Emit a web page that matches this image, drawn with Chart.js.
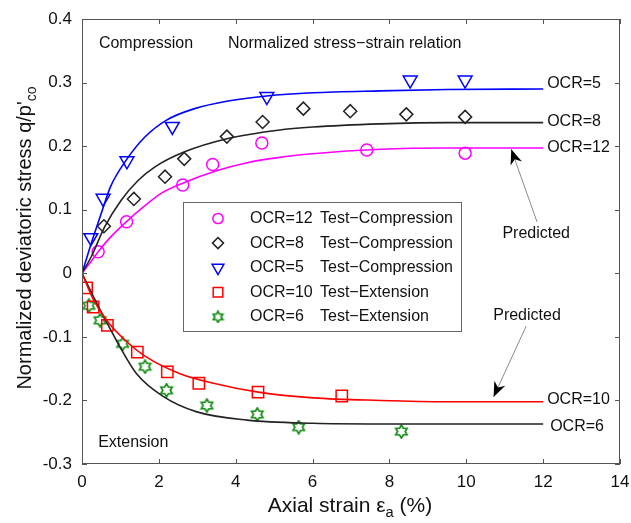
<!DOCTYPE html>
<html>
<head>
<meta charset="utf-8">
<script src="https://cdn.jsdelivr.net/npm/chart.js@4.4.0/dist/chart.umd.min.js"></script>
<style>
  html, body { margin: 0; padding: 0; background: #fff; }
</style>
</head>
<body>
<canvas id="chart" width="631" height="523"></canvas>
<script>
// test points
const ocr12TestX = [0.42, 1.16, 2.62, 3.40, 4.68, 7.41, 9.97];
const ocr12TestY = [0.034, 0.081, 0.139, 0.171, 0.205, 0.194, 0.189];
const ocr8TestX = [0.57, 1.35, 2.16, 2.66, 3.77, 4.70, 5.76, 6.98, 8.44, 9.97];
const ocr8TestY = [0.074, 0.117, 0.152, 0.180, 0.215, 0.238, 0.259, 0.255, 0.250, 0.246];
const ocr5TestX = [0.23, 0.55, 1.17, 2.35, 4.81, 8.54, 9.97];
const ocr5TestY = [0.056, 0.118, 0.177, 0.231, 0.278, 0.304, 0.304];
const ocr10TestX = [0.12, 0.29, 0.66, 1.44, 2.22, 3.04, 4.58, 6.76];
const ocr10TestY = [-0.023, -0.053, -0.082, -0.124, -0.155, -0.173, -0.187, -0.193];
const ocr6TestX = [0.18, 0.47, 1.06, 1.64, 2.20, 3.25, 4.56, 5.64, 8.31];
const ocr6TestY = [-0.051, -0.074, -0.111, -0.147, -0.184, -0.208, -0.222, -0.242, -0.249];

// predicted curves
const ocr5PredX = [0, 0.24, 0.50, 0.74, 1.15, 1.63, 2.20, 2.93, 3.80, 4.80, 6.00, 7.76, 9.50, 12];
const ocr5PredY = [0, 0.047, 0.094, 0.136, 0.178, 0.214, 0.241, 0.259, 0.271, 0.279, 0.284, 0.287, 0.289, 0.290];
const ocr8PredX = [0, 0.24, 0.59, 1.02, 1.46, 1.89, 2.67, 3.80, 5.10, 6.00, 7.76, 9.50, 12];
const ocr8PredY = [0, 0.026, 0.073, 0.115, 0.146, 0.167, 0.191, 0.212, 0.225, 0.230, 0.235, 0.237, 0.237];
const ocr12PredX = [0, 0.24, 0.42, 0.76, 1.15, 1.63, 2.07, 2.59, 3.54, 4.30, 5.10, 6.00, 7.76, 9.50, 12];
const ocr12PredY = [0, 0.019, 0.034, 0.058, 0.081, 0.106, 0.126, 0.141, 0.162, 0.174, 0.182, 0.188, 0.195, 0.197, 0.197];
const ocr10PredX = [0, 0.30, 0.64, 1.08, 1.68, 2.55, 3.42, 4.59, 6.02, 7.76, 9.50, 12];
const ocr10PredY = [0, -0.042, -0.074, -0.103, -0.132, -0.158, -0.173, -0.187, -0.196, -0.200, -0.202, -0.202];
const ocr6PredX = [0, 0.30, 0.64, 0.99, 1.42, 2.12, 2.99, 4.29, 6.02, 7.76, 12];
const ocr6PredY = [0, -0.037, -0.077, -0.116, -0.158, -0.194, -0.218, -0.231, -0.236, -0.237, -0.237];

const xTicks = [0, 2, 4, 6, 8, 10, 12, 14];
const yTicks = [-0.3, -0.2, -0.1, 0, 0.1, 0.2, 0.3, 0.4];

const legendNames = ['OCR=12', 'OCR=8', 'OCR=5', 'OCR=10', 'OCR=6'];
const legendKinds = ['Test\u2212Compression', 'Test\u2212Compression', 'Test\u2212Compression', 'Test\u2212Extension', 'Test\u2212Extension'];
const curveNames = ['OCR=5', 'OCR=8', 'OCR=12', 'OCR=10', 'OCR=6'];

const FONT = '"Liberation Sans", Arial, sans-serif';
const pink = '#ff00ff', blue = '#0000ff', black = '#222222', red = '#ff0000', green = '#148c14';

function xy(xs, ys) {
    return xs.map((x, i) => ({ x: x, y: ys[i] }));
}

// star-of-david marker (matlab hexagram)
function makeHexagram(color, size) {
    const c = document.createElement('canvas');
    c.width = size; c.height = size;
    const g = c.getContext('2d');
    const r = size / 2 - 1, cx = size / 2, cy = size / 2;
    g.strokeStyle = color;
    g.lineWidth = 1.7;
    g.beginPath();
    for (let i = 0; i < 12; i++) {
        const a = -Math.PI / 2 + i * Math.PI / 6;
        const rr = i % 2 === 0 ? r : r / Math.sqrt(3);
        const px = cx + rr * Math.cos(a), py = cy + rr * Math.sin(a);
        if (i === 0) g.moveTo(px, py); else g.lineTo(px, py);
    }
    g.closePath();
    g.stroke();
    return c;
}
const hexStar = makeHexagram(green, 15);
const hexStarSmall = makeHexagram(green, 13);

const markerStyles = [
    { pointStyle: 'circle', radius: 6, rotation: 0, borderColor: pink },
    { pointStyle: 'rectRot', radius: 6.5, rotation: 0, borderColor: black },
    { pointStyle: 'triangle', radius: 8, rotation: 180, borderColor: blue },
    { pointStyle: 'rect', radius: 8, rotation: 0, borderColor: red },
    { pointStyle: hexStar, radius: 7, rotation: 0, borderColor: green }
];

function lineSet(xs, ys, color) {
    return {
        type: 'line', data: xy(xs, ys), borderColor: color, borderWidth: 1.6,
        pointRadius: 0, fill: false, cubicInterpolationMode: 'monotone'
    };
}
function markerSet(xs, ys, m) {
    return {
        type: 'scatter', data: xy(xs, ys), showLine: false,
        pointStyle: m.pointStyle, pointRadius: m.radius, pointHoverRadius: m.radius,
        rotation: m.rotation, borderColor: m.borderColor, backgroundColor: 'rgba(0,0,0,0)',
        pointBorderWidth: 1.5
    };
}

// draw text with a subscript piece
function drawParts(ctx, parts, x, y, size) {
    let w = 0;
    parts.forEach(p => {
        ctx.font = (p.sub ? size * 0.7 : size) + 'px ' + FONT;
        w += ctx.measureText(p.t).width;
    });
    let cx = x - w / 2;
    ctx.textAlign = 'left';
    ctx.textBaseline = 'middle';
    parts.forEach(p => {
        ctx.font = (p.sub ? size * 0.7 : size) + 'px ' + FONT;
        ctx.fillText(p.t, cx, p.sub ? y + size * 0.35 : y);
        cx += ctx.measureText(p.t).width;
    });
}

function arrow(ctx, x1, y1, x2, y2) {
    ctx.save();
    ctx.strokeStyle = '#8a8a8a';
    ctx.lineWidth = 1;
    ctx.beginPath();
    ctx.moveTo(x1, y1);
    ctx.lineTo(x2, y2);
    ctx.stroke();
    const a = Math.atan2(y2 - y1, x2 - x1);
    const L = 15, W = 6;
    ctx.translate(x2, y2);
    ctx.rotate(a);
    ctx.fillStyle = '#000';
    ctx.beginPath();
    ctx.moveTo(0, 0);
    ctx.lineTo(-L, -W);
    ctx.lineTo(-L * 0.7, 0);
    ctx.lineTo(-L, W);
    ctx.closePath();
    ctx.fill();
    ctx.restore();
}

const decorations = {
    id: 'decorations',
    afterDraw(chart) {
        const ctx = chart.ctx;
        const a = chart.chartArea;
        const xs = chart.scales.x, ys = chart.scales.y;
        const X = v => xs.getPixelForValue(v), Y = v => ys.getPixelForValue(v);
        ctx.save();

        // box + inward ticks
        ctx.strokeStyle = '#555';
        ctx.lineWidth = 1;
        ctx.strokeRect(a.left + 0.5, a.top + 0.5, a.right - a.left - 1, a.bottom - a.top - 1);
        ctx.beginPath();
        xTicks.forEach(t => {
            const p = Math.round(X(t)) + 0.5;
            ctx.moveTo(p, a.bottom); ctx.lineTo(p, a.bottom - 5);
            ctx.moveTo(p, a.top); ctx.lineTo(p, a.top + 5);
        });
        yTicks.forEach(t => {
            const p = Math.round(Y(t)) + 0.5;
            ctx.moveTo(a.left, p); ctx.lineTo(a.left + 5, p);
            ctx.moveTo(a.right, p); ctx.lineTo(a.right - 5, p);
        });
        ctx.stroke();

        ctx.fillStyle = '#111';
        // axis titles
        drawParts(ctx, [{ t: 'Axial strain \u03b5' }, { t: 'a', sub: true }, { t: ' (%)' }], 350, 506, 21);
        ctx.save();
        ctx.translate(25, 238);
        ctx.rotate(-Math.PI / 2);
        drawParts(ctx, [{ t: "Normalized deviatoric stress q/p'" }, { t: 'co', sub: true }], 0, 0, 20);
        ctx.restore();

        // in-plot labels
        ctx.font = '16px ' + FONT;
        ctx.textAlign = 'left';
        ctx.textBaseline = 'middle';
        ctx.fillText('Compression', X(0.44), Y(0.362));
        ctx.fillText('Normalized stress\u2212strain relation', X(3.80), Y(0.362));
        ctx.fillText('Extension', X(0.42), Y(-0.267));

        const ends = [0.299, 0.238, 0.198, -0.199, -0.241];
        curveNames.forEach((n, i) => ctx.fillText(n, X(12) + (i === 4 ? 7 : 4), Y(ends[i])));

        ctx.textAlign = 'center';
        ctx.fillText('Predicted', X(11.82), Y(0.063));
        ctx.fillText('Predicted', X(11.58), Y(-0.067));
        arrow(ctx, X(11.84), Y(0.081), X(11.17), Y(0.195));
        arrow(ctx, X(11.56), Y(-0.083), X(10.71), Y(-0.1945));

        // legend box
        const lx = 183.5, ly = 202.5, lw = 278, lh = 129;
        ctx.fillStyle = '#fff';
        ctx.fillRect(lx, ly, lw, lh);
        ctx.strokeStyle = '#666';
        ctx.strokeRect(lx, ly, lw, lh);
        ctx.textAlign = 'left';
        legendNames.forEach((n, i) => {
            const ry = 218.5 + i * 24.6;
            const m = markerStyles[i];
            ctx.strokeStyle = m.borderColor;
            ctx.fillStyle = 'rgba(0,0,0,0)';
            ctx.lineWidth = 1.5;
            Chart.helpers.drawPoint(ctx, {
                pointStyle: i === 4 ? hexStarSmall : m.pointStyle, radius: m.radius * 0.85,
                rotation: m.rotation, borderWidth: 1.5
            }, 218, ry);
            ctx.fillStyle = '#111';
            ctx.fillText(n, 250, ry);
            ctx.fillText(legendKinds[i], 320, ry);
        });
        ctx.restore();
    }
};

const ctx = document.getElementById('chart').getContext('2d');
const chart = new Chart(ctx, {
    data: {
        datasets: [
            lineSet(ocr5PredX, ocr5PredY, blue),
            lineSet(ocr8PredX, ocr8PredY, black),
            lineSet(ocr12PredX, ocr12PredY, pink),
            lineSet(ocr10PredX, ocr10PredY, red),
            lineSet(ocr6PredX, ocr6PredY, black),
            markerSet(ocr12TestX, ocr12TestY, markerStyles[0]),
            markerSet(ocr8TestX, ocr8TestY, markerStyles[1]),
            markerSet(ocr5TestX, ocr5TestY, markerStyles[2]),
            markerSet(ocr10TestX, ocr10TestY, markerStyles[3]),
            markerSet(ocr6TestX, ocr6TestY, markerStyles[4])
        ]
    },
    options: {
        responsive: false,
        animation: false,
        devicePixelRatio: 1,
        layout: { padding: { top: 19, right: 11, left: 0, bottom: 0 } },
        plugins: { legend: { display: false }, tooltip: { enabled: false } },
        scales: {
            x: {
                type: 'linear', min: 0, max: 14,
                afterBuildTicks: s => { s.ticks = xTicks.map(v => ({ value: v })); },
                ticks: { font: { family: FONT, size: 17 }, color: '#111', padding: 0, maxRotation: 0 },
                grid: { display: false },
                border: { display: false },
                afterFit: s => { s.height = 59; }
            },
            y: {
                type: 'linear', min: -0.3, max: 0.4,
                afterBuildTicks: s => { s.ticks = yTicks.map(v => ({ value: v })); },
                ticks: {
                    font: { family: FONT, size: 17 }, color: '#111', padding: 2,
                    callback: v => String(Number(v.toFixed(1)))
                },
                grid: { display: false },
                border: { display: false },
                afterFit: s => { s.width = 82; }
            }
        }
    },
    plugins: [decorations]
});
</script>
</body>
</html>
